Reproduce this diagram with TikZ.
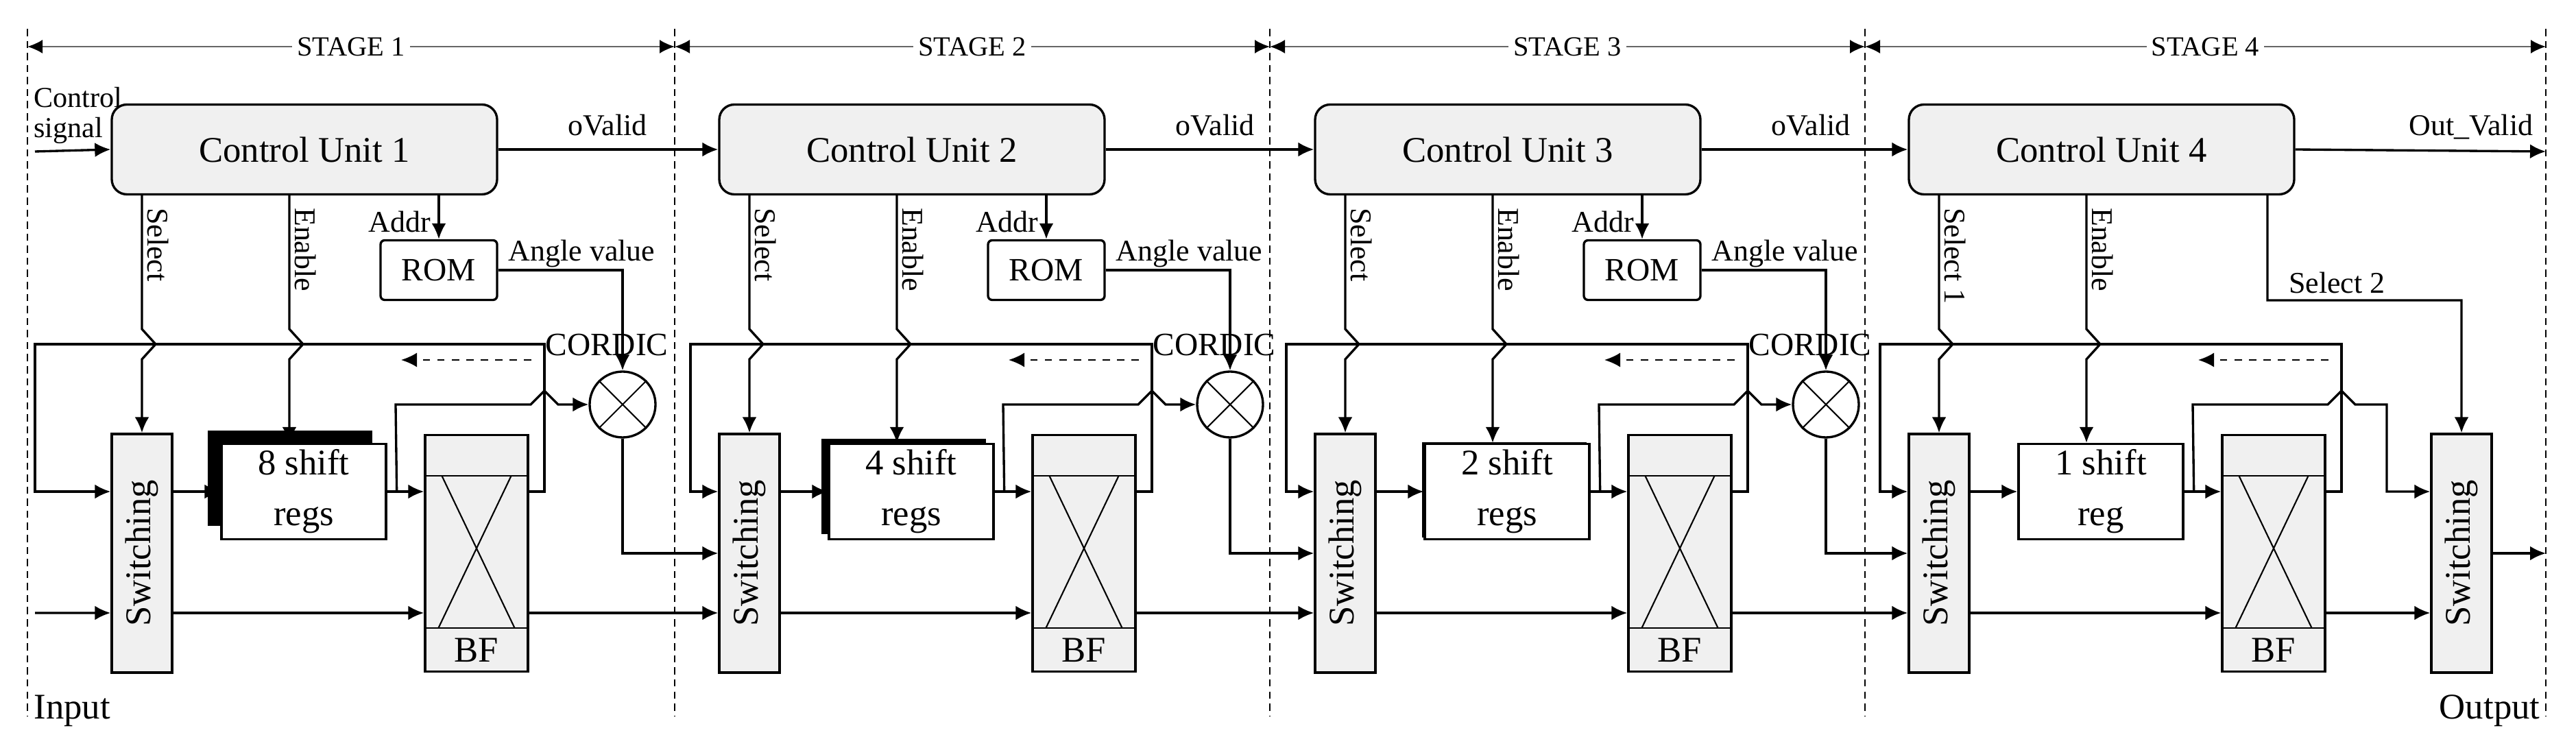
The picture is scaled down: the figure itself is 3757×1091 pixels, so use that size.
\documentclass[tikz,border=0pt]{standalone}
\usepackage{fontspec}
\setmainfont{Liberation Serif}
\usetikzlibrary{arrows.meta,shadows}
\begin{document}
\begin{tikzpicture}[x=0.1mm, y=-0.1mm, line width=0.95pt,
    >={Latex[length=2.3mm,width=2.1mm]},
    lbl/.style={font=\fontsize{12.5}{13}\selectfont, inner sep=1pt},
    big/.style={font=\fontsize{15}{21}\selectfont},
    cu/.style={draw, fill=black!6, rounded corners=2.2mm, minimum width=56.2mm, minimum height=13.1mm, big},
    rom/.style={draw, rounded corners=0.6mm, minimum width=17mm, minimum height=8.7mm, font=\fontsize{13.5}{14}\selectfont},
    sw/.style={draw, fill=black!6, minimum width=8.8mm, minimum height=34.8mm, inner sep=0},
    sr/.style={draw, fill=white, minimum width=24mm, minimum height=13.9mm, align=center, big, inner sep=0},
    bf/.style={draw, fill=black!6, minimum width=15mm, minimum height=34.5mm, inner sep=0},
    mul/.style={draw, fill=white, circle, minimum size=9.6mm, inner sep=0},
    bound/.style={line width=0.6pt, dash pattern=on 3pt off 2pt}]
\useasboundingbox (0,0) rectangle (3757,1091);

% stage boundaries and headings
\foreach \k/\b in {0/40,1/984,2/1852,3/2720,4/3713}{
  \coordinate (bt\k) at (\b,68);
  \draw[bound] (\b,42) -- (\b,1044);
}
\foreach \k/\j in {1/0,2/1,3/2,4/3}
  \draw[black!60, line width=0.7pt, {Latex[black,length=2.2mm,width=2mm]}-{Latex[black,length=2.2mm,width=2mm]}] (bt\j) -- node[fill=white, text=black, font=\fontsize{11.5}{12}\selectfont, inner sep=2pt] (st\k) {STAGE \k} (bt\k);

% the four stages
\foreach \i/\s/\L/\sx/\sy/\txt in {1/163/-112/-2mm/1.9mm/{8 shift\\regs},
                                  2/1049/-42/-1.1mm/0.7mm/{4 shift\\regs},
                                  3/1918/-42/-0.4mm/0.2mm/{2 shift\\regs},
                                  4/2784/-42/0mm/0mm/{1 shift\\reg}}{
  \node[cu] (cu\i) at (\s+281,218) {Control Unit \i};
  \node[sw] (sw\i) at (\s+44,807) {};
  \node[big, rotate=90] (swt\i) at (sw\i) {Switching};
  \node[sr, drop shadow={shadow xshift=\sx, shadow yshift=\sy, fill=black, opacity=1}] (sr\i) at (\s+280,717) {\txt};
  \node[bf] (bf\i) at (\s+532,807) {};
  \draw[line width=0.6pt] ([yshift=-6.1mm]bf\i.north west) -- ([yshift=-6.1mm]bf\i.north east)
        ([yshift=6.5mm]bf\i.south west) -- ([yshift=6.5mm]bf\i.south east);
  \draw[line width=0.6pt] ([xshift=2.6mm,yshift=-6.1mm]bf\i.north west) -- ([xshift=-2.1mm,yshift=6.5mm]bf\i.south east)
        ([xshift=-2.6mm,yshift=-6.1mm]bf\i.north east) -- ([xshift=2.1mm,yshift=6.5mm]bf\i.south west);
  \node[big] (bft\i) at ([yshift=3.3mm]bf\i.south) {BF};
  \ifnum\i<4
    \node[rom] (rom\i) at (\s+477,394) {ROM};
    \node[mul] (cr\i) at (\s+745,590) {};
    \draw[line width=0.6pt] (cr\i.north east) -- (cr\i.south west) (cr\i.north west) -- (cr\i.south east);
    \node[font=\fontsize{13.5}{14}\selectfont, inner sep=0] (crt\i) at (\s+722,503) {CORDIC};
    \draw[->] (cu\i.south -| rom\i.north) -- (rom\i.north);
    \draw[->] (rom\i.east) -| (cr\i.north);
    \node[lbl, anchor=east] (addr\i) at (\s+470,323) {Addr};
    \node[lbl, anchor=base west] (ang\i) at ([xshift=1mm,yshift=1.3mm]rom\i.east) {Angle value};
    \node[lbl, rotate=-90, anchor=south west] (sel\i) at (\s+47,298) {Select};
  \else
    \node[lbl, rotate=-90, anchor=south west] (sel\i) at (\s+47,298) {Select 1};
  \fi
  \node[lbl, rotate=-90, anchor=south west] (en\i) at (\s+262,298) {Enable};

  % control lines with bridges over the feedback line
  \draw[->] ([xshift=-23.7mm]cu\i.south) -- (\s+44,480) -- (\s+64,502) -- (\s+44,524) -- (sw\i.north);
  \draw[->] ([xshift=-2.2mm]cu\i.south) -- (\s+259,480) -- (\s+279,502) -- (\s+259,524) -- ([xshift=-2.1mm]sr\i.north);

  % data path
  \draw[->] (sw\i.east |- sr\i) -- (sr\i.west);
  \draw[->] (sr\i.east) -- (bf\i.west |- sr\i);
  \draw[->] ([yshift=-8.7mm]sw\i.east) -- ([yshift=-8.7mm]bf\i.west);
  \draw[->] (bf\i.east |- sr\i) -- (\s+631,717) -- (\s+631,502) -- (\s+\L,502) -- (\s+\L,717) -- (sw\i.west |- sr\i);
  \coordinate (da\i) at (\s+612,525);
  \coordinate (db\i) at (\s+422,525);
  \draw[dashed, line width=0.6pt, ->] (da\i) -- (db\i);
}

% branches to the CORDIC multipliers (with hop over the feedback line)
\foreach \i/\s in {1/163,2/1049,3/1918}
  \draw[->] ([xshift=1.4mm]sr\i.east) -- (\s+414,590) -- (\s+611,590) -- (\s+631,570) -- (\s+651,590) -- (cr\i.west);

% links between stages
\foreach \i/\j in {1/2,2/3,3/4}{
  \draw[->] (cu\i.east) -- (cu\j.west);
  \draw[->] (cr\i.south) |- (sw\j.west);
  \draw[->] ([yshift=-8.7mm]bf\i.east) -- ([yshift=-8.7mm]sw\j.west);
}
\node[lbl, anchor=base] (ov1) at (886,198) {oValid};
\node[lbl, anchor=base] (ov2) at (1772,198) {oValid};
\node[lbl, anchor=base] (ov3) at (2641,198) {oValid};

% input side
\coordinate (cs) at (51,221);
\coordinate (in) at (51,894);
\draw[->] (cs) -- (cu1.west);
\draw[->] (in) -- ([yshift=-8.7mm]sw1.west);
\node[lbl, anchor=north west, align=left, font=\fontsize{12}{12.5}\selectfont] (cst) at (44,122) {Control\\signal};
\node[big, anchor=west, inner sep=0] (inl) at (48,1037) {Input};

% output side
\node[sw] (swo) at (3590,807) {};
\node[big, rotate=90] (swot) at (swo) {Switching};
\draw[->] ([xshift=1.4mm]sr4.east) -- (2784+414,590) -- (2784+611,590) -- (2784+631,570) -- (2784+651,590) -- (3481,590) -- (3481,717) -- (swo.west |- sr4);
\draw[->] ([yshift=-8.7mm]bf4.east) -- ([yshift=-8.7mm]swo.west);
\draw[->] ([xshift=24.2mm]cu4.south) -- (3307,438) -| (swo.north);
\node[lbl, anchor=base west] (sel2) at (3333,428) {Select 2};
\coordinate (ovend) at (3713,221);
\coordinate (out) at (3713,807);
\draw[->] (cu4.east) -- (ovend);
\node[lbl, anchor=base] (ovt) at (3604,198) {Out\_Valid};
\draw[->] (swo.east) -- (out);
\node[big, anchor=east, inner sep=0] (outl) at (3706,1037) {Output};
\end{tikzpicture}
\end{document}
